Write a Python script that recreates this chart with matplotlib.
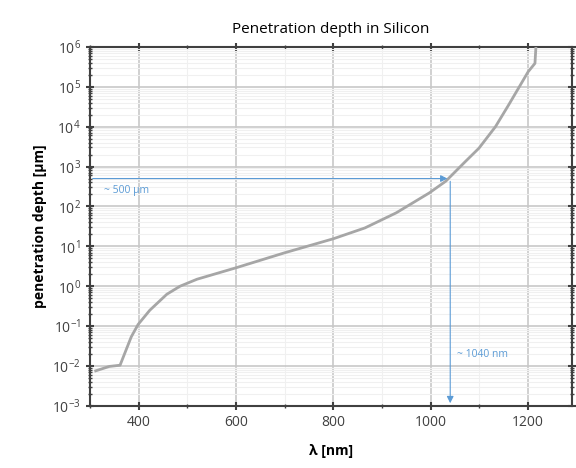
import numpy as np
import matplotlib.pyplot as plt
from matplotlib.ticker import LogLocator, MultipleLocator, LogFormatterMathtext

# penetration depth
wavelength = [312, 340, 362, 385, 399, 423, 458, 485, 520, 600, 700, 800, 865,
              929, 997, 1031, 1071, 1099, 1133, 1160, 1180, 1200, 1214, 1216]
depth_um = [0.0076, 0.0098, 0.0105, 0.054, 0.11, 0.25, 0.63, 1.0, 1.5, 2.9, 6.9, 15.5, 29,
            69, 218, 430, 1330, 2880, 10000, 35000, 91000, 237000, 385000, 1e6]

mark_wl = 1040
mark_depth = 500
label_depth = "~ 500 \u00b5m"
label_wl = "~ 1040 nm"

plt.rcParams['font.family'] = ['Open Sans', 'DejaVu Sans']

fig = plt.figure(figsize=(5.76, 4.68), dpi=100)
ax = fig.add_axes([0.156, 0.1325, 0.837, 0.7675])

ax.plot(wavelength, depth_um, color='#a6a6a6', lw=2, zorder=3)

blue = '#5b9bd5'
ax.annotate('', xy=(mark_wl, mark_depth), xytext=(300, mark_depth),
            arrowprops=dict(arrowstyle='-|>', color=blue, lw=0.8, mutation_scale=10), zorder=4)
ax.annotate('', xy=(mark_wl, 1e-3), xytext=(mark_wl, mark_depth),
            arrowprops=dict(arrowstyle='-|>', color=blue, lw=0.8, mutation_scale=10), zorder=4)
ax.text(330, 250, label_depth, color=blue, fontsize=7.5, va='center')
ax.text(1053, 0.02, label_wl, color=blue, fontsize=7.5, va='center')

ax.set_yscale('log')
ax.set_xlim(300, 1290)
ax.set_ylim(1e-3, 1e6)
ax.xaxis.set_major_locator(MultipleLocator(200))
ax.xaxis.set_minor_locator(MultipleLocator(100))
ax.yaxis.set_major_locator(LogLocator(base=10, numticks=20))
ax.yaxis.set_minor_locator(LogLocator(base=10, subs=np.arange(2, 10), numticks=20))
ax.yaxis.set_major_formatter(LogFormatterMathtext())

ax.grid(which='major', color='#c8c8c8', lw=1.2)
ax.grid(which='minor', color='#f0f0f0', lw=0.8)
ax.set_axisbelow(True)

for s in ax.spines.values():
    s.set_color('#404040')
    s.set_linewidth(1.5)
ax.tick_params(which='both', direction='inout', top=True, right=True, color='#404040')
ax.tick_params(which='major', length=6, width=1.5, labelsize=10, labelcolor='#404040')
ax.tick_params(which='minor', length=3, width=1)

ax.set_title('Penetration depth in Silicon', fontsize=11, pad=10)
ax.set_xlabel('\u03bb [nm]', fontsize=10, fontweight='bold', labelpad=10)
ax.set_ylabel('penetration depth [\u00b5m]', fontsize=10, fontweight='bold', labelpad=4)

fig.savefig('out.png', dpi=100)
